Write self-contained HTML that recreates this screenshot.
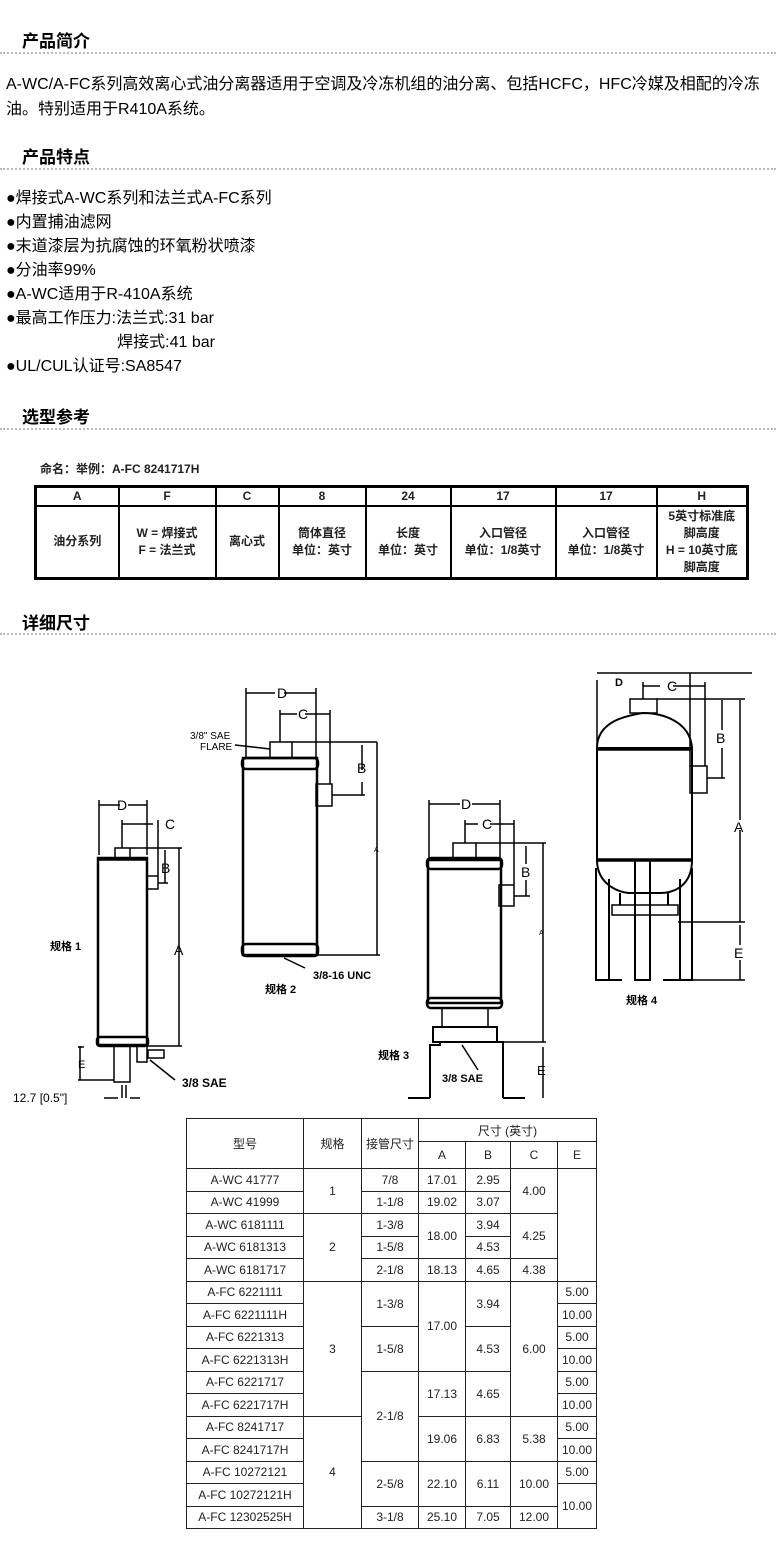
<!DOCTYPE html>
<html><head><meta charset="utf-8"><style>
body{margin:0;width:776px;height:1548px;background:#fff;position:relative;font-family:"Liberation Sans","Noto Sans CJK SC",sans-serif;color:#000;overflow:hidden}
.a{position:absolute;white-space:nowrap}
.h{font-size:17px;font-weight:bold;left:22px}
.d{position:absolute;left:0;width:776px;border-top:2px dotted #bbb;height:0}
.p{font-size:16px;left:6px}
table{border-collapse:collapse;table-layout:fixed;position:absolute}
.t1{left:34px;top:485px;width:712px;border:3px solid #000;font-size:12px;font-weight:bold;color:#222}
.t1 td{border:2px solid #000;text-align:center;padding:0;line-height:17px}
.t2{left:186px;top:1118px;width:410px;font-size:12px;color:#222}
.t2 td{border:1px solid #222;text-align:center;padding:0}
.t2 tr{height:22.5px}
</style></head><body>
<div class="a h" style="top:27px">产品简介</div><div class="d" style="top:52px"></div>
<div class="a p" style="top:70px">A-WC/A-FC系列高效离心式油分离器适用于空调及冷冻机组的油分离、包括HCFC，HFC冷媒及相配的冷冻</div>
<div class="a p" style="top:95px">油。特别适用于R410A系统。</div>
<div class="a h" style="top:143px">产品特点</div><div class="d" style="top:168px"></div>
<div class="a p" style="top:187px;line-height:24px">●焊接式A-WC系列和法兰式A-FC系列<br>●内置捕油滤网<br>●末道漆层为抗腐蚀的环氧粉状喷漆<br>●分油率99%<br>●A-WC适用于R-410A系统<br>●最高工作压力:法兰式:31 bar<br>&nbsp;&nbsp;&nbsp;&nbsp;&nbsp;&nbsp;&nbsp;&nbsp;&nbsp;&nbsp;&nbsp;&nbsp;&nbsp;&nbsp;&nbsp;&nbsp;&nbsp;&nbsp;&nbsp;&nbsp;&nbsp;&nbsp;&nbsp;&nbsp;&nbsp;焊接式:41 bar<br>●UL/CUL认证号:SA8547</div>
<div class="a h" style="top:403px">选型参考</div><div class="d" style="top:428px"></div>
<div class="a" style="top:460px;left:40px;font-size:12px;font-weight:bold;color:#222">命名：举例：A-FC 8241717H</div>
<table class="t1"><colgroup><col style="width:83px"><col style="width:97px"><col style="width:63px"><col style="width:87px"><col style="width:85px"><col style="width:105px"><col style="width:101px"><col style="width:91px"></colgroup>
<tr style="height:19px"><td>A</td><td>F</td><td>C</td><td>8</td><td>24</td><td>17</td><td>17</td><td>H</td></tr>
<tr style="height:72px"><td>油分系列</td><td>W = 焊接式<br>F = 法兰式</td><td>离心式</td><td>筒体直径<br>单位：英寸</td><td>长度<br>单位：英寸</td><td>入口管径<br>单位：1/8英寸</td><td>入口管径<br>单位：1/8英寸</td><td>5英寸标准底<br>脚高度<br>H = 10英寸底<br>脚高度</td></tr></table>
<div class="a h" style="top:609px">详细尺寸</div><div class="d" style="top:633px"></div>

<svg style="position:absolute;left:0;top:0" width="776" height="1548" fill="none" stroke="#000" stroke-width="1.5" font-family="Liberation Sans,Noto Sans CJK SC,sans-serif">
<!-- drawing 1 -->
<rect x="98" y="858" width="49" height="187" stroke-width="2.5"/>
<line x1="98" y1="859" x2="147" y2="859" stroke-width="3.5"/>
<rect x="97" y="1037" width="51" height="9" rx="3" stroke-width="2.5"/>
<rect x="115" y="848" width="15" height="10"/>
<rect x="147" y="876" width="11" height="13"/>
<rect x="114" y="1046" width="16" height="36"/>
<rect x="137" y="1046" width="10" height="16"/>
<rect x="148" y="1050" width="16" height="8"/>
<path d="M99 800V855M147 800V855M99 805H120M128 805H147M122 820V848M158 820V876M122 824H153M130 848H182M158 883H168M179 848V1046M165 850V883M100 1046H182M80 1046V1080M78 1047H84M78 1080H114M122 1085V1098M126 1085V1098M104 1098H118M130 1098H140M150 1060L175 1080"/>
<g fill="#000" stroke="none" font-size="14"><text x="117" y="810">D</text><text x="165" y="829">C</text><text x="161" y="873">B</text><text x="174" y="955">A</text><text x="78" y="1068" font-size="11">E</text>
<text x="50" y="950" font-size="11" font-weight="bold">规格 1</text><text x="182" y="1087" font-size="12" font-weight="bold">3/8 SAE</text><text x="13" y="1102" font-size="12">12.7 [0.5"]</text></g>
<!-- drawing 2 -->
<rect x="243" y="758" width="74" height="197" stroke-width="2.5"/>
<rect x="242" y="758" width="76" height="11" rx="4" stroke-width="2.5"/>
<rect x="242" y="944" width="76" height="12" rx="4" stroke-width="2.5"/>
<rect x="270" y="742" width="22" height="16"/>
<rect x="316" y="784" width="16" height="22"/>
<path d="M246 688V758M316 688V758M246 693H275M284 693H316M280 710V742M330 710V784M280 714H297M305 714H330M292 742H377M332 795H365M362 745V770M362 782V795M377 742V955M318 955H380M235 745L270 749M284 958L305 968" />
<g fill="#000" stroke="none"><text x="277" y="698" font-size="14">D</text><text x="298" y="719" font-size="14">C</text><text x="357" y="773" font-size="14">B</text><text x="374" y="852" font-size="7">A</text>
<text x="190" y="739" font-size="10">3/8" SAE</text><text x="200" y="750" font-size="10">FLARE</text>
<text x="313" y="979" font-size="11" font-weight="bold">3/8-16 UNC</text><text x="265" y="993" font-size="11" font-weight="bold">规格 2</text></g>
<!-- drawing 3 -->
<rect x="428" y="860" width="73" height="143" stroke-width="2.5"/>
<rect x="427" y="858" width="75" height="11" rx="4" stroke-width="2.5"/>
<rect x="427" y="998" width="75" height="10" rx="4" stroke-width="2.5"/>
<rect x="453" y="843" width="23" height="15"/>
<rect x="499" y="885" width="15" height="21"/>
<rect x="442" y="1008" width="46" height="19"/>
<rect x="433" y="1027" width="64" height="15" stroke-width="2"/>
<path d="M430 1098V1045H440V1042M497 1042H503V1045V1098M408 1098H430M503 1098H525" stroke-width="2"/>
<path d="M429 800V858M500 800V858M429 804H460M472 804H500M465 820V843M514 820V885M465 824H478M490 824H514M476 843H546M514 896H530M526 846V864M526 880V896M543 843V1042M500 1042H546M543 1047V1098M462 1045L478 1070"/>
<g fill="#000" stroke="none"><text x="461" y="809" font-size="14">D</text><text x="482" y="829" font-size="14">C</text><text x="521" y="877" font-size="14">B</text><text x="539" y="935" font-size="7">A</text><text x="537" y="1075" font-size="13">E</text>
<text x="378" y="1059" font-size="11" font-weight="bold">规格 3</text><text x="442" y="1082" font-size="11" font-weight="bold">3/8 SAE</text></g>
<!-- drawing 4 -->
<path d="M597 748C597 720 630 715 643 713C660 713 690 720 692 748" stroke-width="2"/>
<rect x="597" y="748" width="95" height="112" stroke-width="2"/>
<line x1="596" y1="749" x2="693" y2="749" stroke-width="3.5"/><line x1="596" y1="860" x2="693" y2="860" stroke-width="3.5"/>
<path d="M597 860C597 885 620 893 630 893H660C675 893 692 885 692 860" stroke-width="2"/>
<rect x="630" y="699" width="27" height="14"/>
<rect x="690" y="766" width="17" height="27"/>
<rect x="612" y="905" width="66" height="10"/>
<path d="M620 893V905M668 893V905M596 868V980H622M692 868V980H663M609 879V980M680 879V980M635 860V980H650V860" stroke-width="2"/>
<path d="M597 673H752M597 680V748M690 673V766M643 682V699M705 682V766M643 686H660M673 686H705M657 699H745M707 778H725M722 700V730M722 748V778M740 700V820M740 830V922M678 922H745M740 925V945M740 960V980M692 980H745"/>
<g fill="#000" stroke="none"><text x="615" y="686" font-size="11" font-weight="bold">D</text><text x="667" y="691" font-size="14">C</text><text x="716" y="743" font-size="14">B</text><text x="734" y="832" font-size="14">A</text><text x="734" y="958" font-size="14">E</text>
<text x="626" y="1004" font-size="11" font-weight="bold">规格 4</text></g>
</svg>

<table class="t2"><colgroup><col style="width:117px"><col style="width:58px"><col style="width:57px"><col style="width:47px"><col style="width:45px"><col style="width:47px"><col style="width:39px"></colgroup>
<tr style="height:23px"><td rowspan="2">型号</td><td rowspan="2">规格</td><td rowspan="2">接管尺寸</td><td colspan="4">尺寸 (英寸)</td></tr>
<tr style="height:27px"><td>A</td><td>B</td><td>C</td><td>E</td></tr>
<tr><td>A-WC 41777</td><td rowspan="2">1</td><td>7/8</td><td>17.01</td><td>2.95</td><td rowspan="2">4.00</td><td rowspan="5"></td></tr>
<tr><td>A-WC 41999</td><td>1-1/8</td><td>19.02</td><td>3.07</td></tr>
<tr><td>A-WC 6181111</td><td rowspan="3">2</td><td>1-3/8</td><td rowspan="2">18.00</td><td>3.94</td><td rowspan="2">4.25</td></tr>
<tr><td>A-WC 6181313</td><td>1-5/8</td><td>4.53</td></tr>
<tr><td>A-WC 6181717</td><td>2-1/8</td><td>18.13</td><td>4.65</td><td>4.38</td></tr>
<tr><td>A-FC 6221111</td><td rowspan="6">3</td><td rowspan="2">1-3/8</td><td rowspan="4">17.00</td><td rowspan="2">3.94</td><td rowspan="6">6.00</td><td>5.00</td></tr>
<tr><td>A-FC 6221111H</td><td>10.00</td></tr>
<tr><td>A-FC 6221313</td><td rowspan="2">1-5/8</td><td rowspan="2">4.53</td><td>5.00</td></tr>
<tr><td>A-FC 6221313H</td><td>10.00</td></tr>
<tr><td>A-FC 6221717</td><td rowspan="4">2-1/8</td><td rowspan="2">17.13</td><td rowspan="2">4.65</td><td>5.00</td></tr>
<tr><td>A-FC 6221717H</td><td>10.00</td></tr>
<tr><td>A-FC 8241717</td><td rowspan="5">4</td><td rowspan="2">19.06</td><td rowspan="2">6.83</td><td rowspan="2">5.38</td><td>5.00</td></tr>
<tr><td>A-FC 8241717H</td><td>10.00</td></tr>
<tr><td>A-FC 10272121</td><td rowspan="2">2-5/8</td><td rowspan="2">22.10</td><td rowspan="2">6.11</td><td rowspan="2">10.00</td><td>5.00</td></tr>
<tr><td>A-FC 10272121H</td><td rowspan="2">10.00</td></tr>
<tr><td>A-FC 12302525H</td><td>3-1/8</td><td>25.10</td><td>7.05</td><td>12.00</td></tr>
</table>
</body></html>
